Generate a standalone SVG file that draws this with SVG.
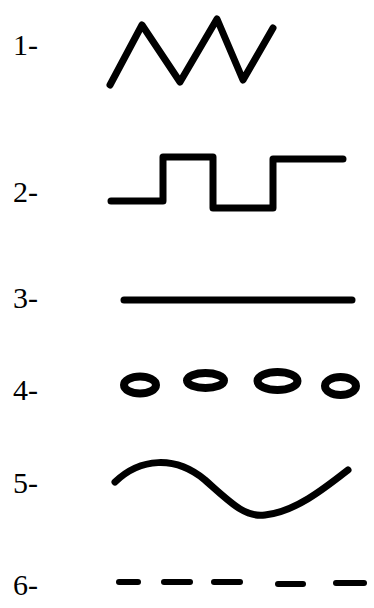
<svg xmlns="http://www.w3.org/2000/svg" width="374" height="608" viewBox="0 0 374 608">
<style>
.lbl{font-family:"Liberation Serif","Times New Roman",serif;font-size:30px;fill:#000}
.s{fill:none;stroke:#000;stroke-width:7;stroke-linecap:round;stroke-linejoin:round}
.o{fill:none;stroke:#000;stroke-width:8}
.d{stroke:#000;stroke-width:6;stroke-linecap:round}
</style>
<rect width="374" height="608" fill="#fff"/>
<g id="row1">
<text class="lbl" x="13" y="55">1-</text>
<polyline class="s" points="110,85 142,25 180,82 217,19 243,80 273,28"/>
</g>
<g id="row2">
<text class="lbl" x="13" y="202">2-</text>
<polyline class="s" points="111,201 163,201 163,157 213,157 213,208 273,208 273,159 343,159"/>
</g>
<g id="row3">
<text class="lbl" x="13" y="308">3-</text>
<line class="s" x1="124" y1="300" x2="352" y2="300"/>
</g>
<g id="row4">
<text class="lbl" x="13" y="400">4-</text>
<ellipse class="o" cx="140" cy="385" rx="16" ry="8.5"/>
<ellipse class="o" cx="205.5" cy="380.5" rx="18.5" ry="7.5"/>
<ellipse class="o" cx="277.5" cy="381" rx="20" ry="9"/>
<ellipse class="o" cx="340.5" cy="386" rx="15.5" ry="9"/>
</g>
<g id="row5">
<text class="lbl" x="13" y="493">5-</text>
<path class="s" d="M115,482 C140,458 175,455 205,480 C230,502 245,518 265,515 C295,512 325,488 348,470"/>
</g>
<g id="row6">
<text class="lbl" x="13" y="595">6-</text>
<line class="d" x1="119" y1="582" x2="138" y2="582"/>
<line class="d" x1="164" y1="582" x2="190" y2="582"/>
<line class="d" x1="214" y1="582" x2="240" y2="582"/>
<line class="d" x1="278" y1="584" x2="303" y2="584"/>
<line class="d" x1="336" y1="583" x2="364" y2="583"/>
</g>
</svg>
